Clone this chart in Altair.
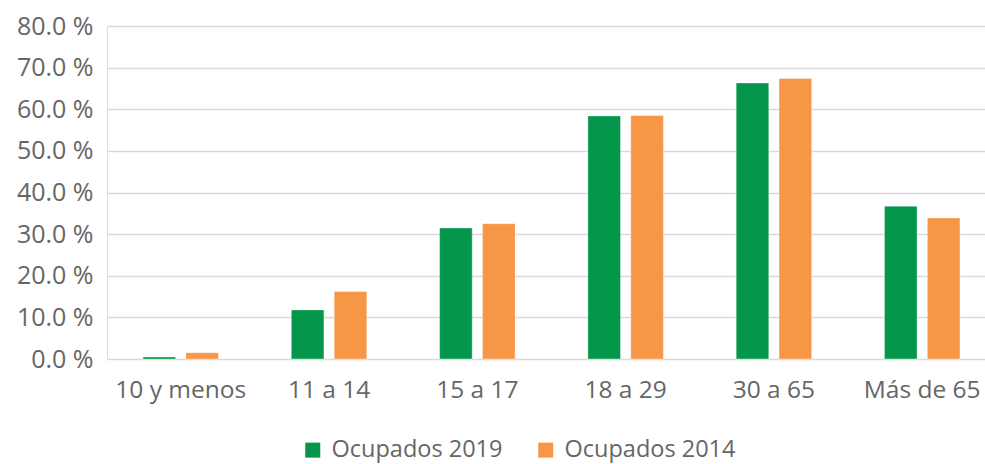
import altair as alt
import pandas as pd

categories = ["10 y menos", "11 a 14", "15 a 17", "18 a 29", "30 a 65", "Más de 65"]
series_names = ["Ocupados 2019", "Ocupados 2014"]
values_2019 = [0.5, 11.8, 31.5, 58.4, 66.3, 36.7]
values_2014 = [1.5, 16.2, 32.5, 58.5, 67.4, 33.9]
colors = ["#04964A", "#F79646"]

rows = []
for c, v in zip(categories, values_2019):
    rows.append({"cat": c, "serie": series_names[0], "val": v})
for c, v in zip(categories, values_2014):
    rows.append({"cat": c, "serie": series_names[1], "val": v})
df = pd.DataFrame(rows)

FONT = "Open Sans"
GRAY = "#666666"

chart = alt.Chart(df).mark_bar(stroke="white", strokeWidth=0.6, strokeOpacity=0.6).encode(
    x=alt.X("cat:N", sort=categories, title=None,
            scale=alt.Scale(paddingInner=0.491, paddingOuter=0.206, align=0.59),
            axis=alt.Axis(labelAngle=0, domain=False, ticks=False, labelPadding=19,
                          labelFontSize=24.5, labelColor=GRAY, labelFont=FONT,
                          labelLimit=300)),
    xOffset=alt.XOffset("serie:N", sort=series_names,
                        scale=alt.Scale(paddingInner=0.24, paddingOuter=0)),
    y=alt.Y("val:Q", title=None,
            scale=alt.Scale(domain=[0, 80], nice=False),
            axis=alt.Axis(values=[0, 10, 20, 30, 40, 50, 60, 70, 80],
                          labelExpr="format(datum.value, '.1f') + ' %'",
                          domain=False, ticks=False, labelPadding=14,
                          labelFontSize=25, labelColor=GRAY, labelFont=FONT,
                          labelLimit=300,
                          gridColor="#D9D9D9", gridWidth=1.5)),
    color=alt.Color("serie:N", sort=series_names,
                    scale=alt.Scale(domain=series_names, range=colors),
                    legend=alt.Legend(title=None, orient="none", direction="horizontal",
                                      legendX=194, legendY=412,
                                      symbolType="square", symbolSize=225,
                                      symbolStrokeWidth=0, symbolOpacity=1,
                                      labelFontSize=23.5, labelColor=GRAY, labelFont=FONT,
                                      labelLimit=400,
                                      columnPadding=31, labelOffset=7)),
).properties(
    width=878, height=333,
    autosize=alt.AutoSizeParams(type="none"),
    padding={"left": 107, "top": 26, "right": 0, "bottom": 105},
).configure_view(stroke=None).configure(background="white")

chart.save("out.html", embed_options={"renderer": "svg", "actions": False})
